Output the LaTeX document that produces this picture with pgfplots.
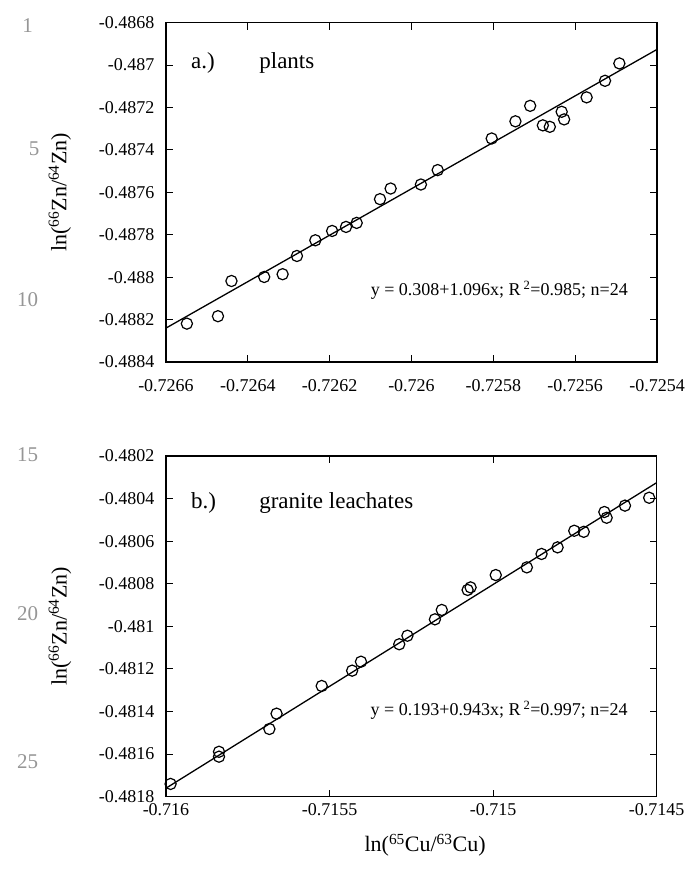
\documentclass[border=0pt]{standalone}
\usepackage{fontspec}
\setmainfont{Liberation Serif}
\usepackage{pgfplots}
\pgfplotsset{compat=1.18}
\definecolor{lngray}{RGB}{150,150,150}
\newcommand{\tl}[1]{\textnormal{#1}}
\pgfplotsset{
  common/.style={
    scale only axis,
    axis line style={line width=1.4pt},
    tick align=inside,
    major tick length=7pt,
    tick style={line width=1.1pt, black},
    tick label style={font=\fontsize{18}{20}\selectfont},
    yticklabel style={xshift=-8pt},
    label style={font=\fontsize{22}{24}\selectfont},
    clip=false,
  },
  dots/.style={only marks, mark=o, mark size=5.6pt, mark options={line width=1.2pt, black, fill=white}},
  fit/.style={no marks, line width=1.3pt, black},
}
\begin{document}
\begin{tikzpicture}[x=1pt,y=1pt]
\useasboundingbox (0,0) rectangle (686,-870);
% line numbers
\begin{scope}[every node/.style={text=lngray, font=\fontsize{21}{23}\selectfont, anchor=center}]
\node at (27.5,-26) {1};
\node at (34,-149) {5};
\node at (27.5,-300) {10};
\node at (27.5,-455) {15};
\node at (27.5,-614) {20};
\node at (27.5,-762) {25};
\end{scope}
% panel a
\begin{axis}[common,
  at={(166pt,-362pt)}, anchor=south west,
  width=491pt, height=339.3pt,
  xticklabel style={yshift=-14pt},
  xmin=-0.7266, xmax=-0.7254, ymin=-0.4884, ymax=-0.4868,
  xtick={-0.7266,-0.7264,-0.7262,-0.726,-0.7258,-0.7256,-0.7254},
  xticklabels={\tl{-0.7266},\tl{-0.7264},\tl{-0.7262},\tl{-0.726},\tl{-0.7258},\tl{-0.7256},\tl{-0.7254}},
  ytick={-0.4884,-0.4882,-0.488,-0.4878,-0.4876,-0.4874,-0.4872,-0.487,-0.4868},
  yticklabels={\tl{-0.4884},\tl{-0.4882},\tl{-0.488},\tl{-0.4878},\tl{-0.4876},\tl{-0.4874},\tl{-0.4872},\tl{-0.487},\tl{-0.4868}},
  ylabel={ln(\textsuperscript{66}Zn/\textsuperscript{64}Zn)},
  ylabel style={at={(axis description cs:-0.216,0.5)}, anchor=center},
]
\addplot[fit] coordinates {(-0.7266,-0.48824) (-0.7254,-0.486926)};
\addplot[dots] coordinates {
(-0.726549,-0.488219) (-0.726473,-0.488184) (-0.72644,-0.488018) (-0.72636,-0.487999)
(-0.726315,-0.487986) (-0.72628,-0.4879) (-0.726235,-0.487826) (-0.726194,-0.487782)
(-0.72616,-0.487763) (-0.726134,-0.487744) (-0.726077,-0.487632) (-0.726051,-0.487582)
(-0.725977,-0.487563) (-0.725936,-0.487495) (-0.725804,-0.487346) (-0.725746,-0.487265)
(-0.72571,-0.487192) (-0.725679,-0.487284) (-0.725662,-0.487291) (-0.725633,-0.48722)
(-0.725627,-0.487256) (-0.725572,-0.487152) (-0.725527,-0.487074) (-0.725492,-0.486992)
};
\node[anchor=west, font=\fontsize{23}{25}\selectfont] at (axis description cs:0.044,0.882) {a.)};
\node[anchor=west, font=\fontsize{23}{25}\selectfont] at (axis description cs:0.183,0.882) {plants};
\node[anchor=west, font=\fontsize{18}{20}\selectfont] at (axis description cs:0.41,0.211) {y = 0.308+1.096x; R\,\textsuperscript{2}=0.985; n=24};
\end{axis}
% panel b
\begin{axis}[common,
  at={(166pt,-796.7pt)}, anchor=south west,
  width=490.7pt, height=340.7pt,
  xticklabel style={yshift=-3pt},
  xmin=-0.716, xmax=-0.7145, ymin=-0.4818, ymax=-0.4802,
  xtick={-0.716,-0.7155,-0.715,-0.7145},
  xticklabels={\tl{-0.716},\tl{-0.7155},\tl{-0.715},\tl{-0.7145}},
  ytick={-0.4818,-0.4816,-0.4814,-0.4812,-0.481,-0.4808,-0.4806,-0.4804,-0.4802},
  yticklabels={\tl{-0.4818},\tl{-0.4816},\tl{-0.4814},\tl{-0.4812},\tl{-0.481},\tl{-0.4808},\tl{-0.4806},\tl{-0.4804},\tl{-0.4802}},
  ylabel={ln(\textsuperscript{66}Zn/\textsuperscript{64}Zn)},
  ylabel style={at={(axis description cs:-0.216,0.5)}, anchor=center},
  xlabel={ln(\textsuperscript{65}Cu/\textsuperscript{63}Cu)},
  xlabel style={at={(axis description cs:0.528,-0.142)}, anchor=center},
]
\addplot[fit] coordinates {(-0.716,-0.48176) (-0.7145,-0.480325)};
\addplot[dots] coordinates {
(-0.715986,-0.48174) (-0.715838,-0.481612) (-0.715838,-0.481589) (-0.715684,-0.481482)
(-0.715662,-0.48141) (-0.715524,-0.48128) (-0.715431,-0.481208) (-0.715404,-0.481166)
(-0.715287,-0.481084) (-0.715262,-0.481044) (-0.715178,-0.480967) (-0.715157,-0.480923)
(-0.715078,-0.480829) (-0.715069,-0.480817) (-0.714992,-0.480759) (-0.714897,-0.480723)
(-0.714852,-0.48066) (-0.714803,-0.480629) (-0.714752,-0.480551) (-0.714723,-0.480556)
(-0.71466,-0.480463) (-0.714653,-0.48049) (-0.714597,-0.480433) (-0.714523,-0.480396)
};
\node[anchor=west, font=\fontsize{23}{25}\selectfont] at (axis description cs:0.044,0.862) {b.)};
\node[anchor=west, font=\fontsize{23}{25}\selectfont] at (axis description cs:0.183,0.862) {granite leachates};
\node[anchor=west, font=\fontsize{18}{20}\selectfont] at (axis description cs:0.41,0.254) {y = 0.193+0.943x; R\,\textsuperscript{2}=0.997; n=24};
\end{axis}
\end{tikzpicture}
\end{document}
